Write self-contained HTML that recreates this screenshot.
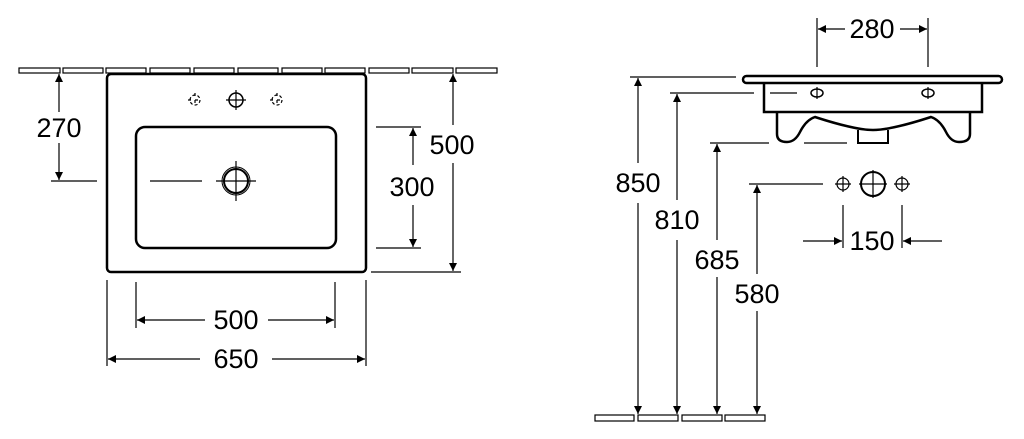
<!DOCTYPE html>
<html><head><meta charset="utf-8"><style>
html,body{margin:0;padding:0;background:#fff;}
svg{display:block;}
text{font-family:"Liberation Sans",sans-serif;font-size:27px;fill:#000;text-anchor:middle;}
</style></head><body>
<svg width="1024" height="439" viewBox="0 0 1024 439" xmlns="http://www.w3.org/2000/svg">
<defs>
<marker id="a" viewBox="0 0 10 10" refX="10" refY="5" markerWidth="16" markerHeight="8" markerUnits="userSpaceOnUse" orient="auto-start-reverse"><path d="M0,0 L10,5 L0,10 z" fill="#000"/></marker>
</defs>
<g fill="none" stroke="#000" stroke-width="1.2">
<rect x="19" y="68" width="41" height="5"/><rect x="63" y="68" width="40" height="5"/><rect x="106" y="68" width="40" height="5"/><rect x="150" y="68" width="40" height="5"/><rect x="194" y="68" width="40" height="5"/><rect x="238" y="68" width="40" height="5"/><rect x="282" y="68" width="40" height="5"/><rect x="325" y="68" width="40" height="5"/><rect x="369" y="68" width="40" height="5"/><rect x="412" y="68" width="41" height="5"/><rect x="456" y="68" width="41" height="5"/>
<rect x="107" y="74" width="259" height="198" rx="4" stroke-width="2.5"/>
<rect x="136" y="127" width="200" height="121" rx="9" stroke-width="2.5"/>
<circle cx="236" cy="181" r="12" stroke-width="2"/><circle cx="236" cy="181" r="14" stroke-width="1"/>
<path d="M216 181h40M236 161v40M150 181h52"/>
<circle cx="236" cy="100" r="7" stroke-width="1.5"/><path d="M226 100h20M236 90v20"/>
<circle cx="195" cy="100" r="5" stroke-dasharray="3 2.2"/><path d="M188 100h14M195 93v14" stroke-dasharray="3 4"/>
<circle cx="277" cy="100" r="5" stroke-dasharray="3 2.2"/><path d="M270 100h14M277 93v14" stroke-dasharray="3 4"/>
<line x1="59" y1="74" x2="59" y2="112" marker-start="url(#a)"/><line x1="59" y1="143" x2="59" y2="180" marker-end="url(#a)"/>
<path d="M51 181h46"/>
<path d="M376 127h45M376 248h45"/>
<line x1="413" y1="128" x2="413" y2="165" marker-start="url(#a)"/><line x1="413" y1="205" x2="413" y2="247" marker-end="url(#a)"/>
<path d="M371 272h90"/>
<line x1="453" y1="74" x2="453" y2="125" marker-start="url(#a)"/><line x1="453" y1="163" x2="453" y2="271" marker-end="url(#a)"/>
<path d="M107 280v86M366 280v86M136 282v46M335 282v46"/>
<line x1="137" y1="320" x2="205" y2="320" marker-start="url(#a)"/><line x1="268" y1="320" x2="334" y2="320" marker-end="url(#a)"/>
<line x1="108" y1="359" x2="200" y2="359" marker-start="url(#a)"/><line x1="272" y1="359" x2="365" y2="359" marker-end="url(#a)"/>
<rect x="595" y="415" width="39" height="6"/><rect x="638" y="415" width="40" height="6"/><rect x="682" y="415" width="40" height="6"/><rect x="725" y="415" width="40" height="6"/>
<rect x="743" y="76" width="259" height="7" rx="3.5" stroke-width="2.5"/>
<path d="M764 83v29h218v-29" stroke-width="2.5"/>
<path d="M777 112 L777 134 Q777 142 787 142 Q795 142 800 132 Q806 120 815 117 Q855 130 873 130 Q891 130 931 117 Q940 120 946 132 Q951 142 959 142 Q970 142 970 134 L970 112" stroke-width="2.5"/>
<path d="M858 130v13h30v-13" stroke-width="2"/>
<ellipse cx="817" cy="93" rx="6" ry="4" stroke-width="1.5"/><ellipse cx="928" cy="93" rx="6" ry="4" stroke-width="1.5"/>
<path d="M817 87v12M928 87v12M770 93h27"/>
<path d="M817 18v49M928 18v49"/>
<line x1="845" y1="29" x2="818" y2="29" marker-end="url(#a)"/><line x1="900" y1="29" x2="927" y2="29" marker-end="url(#a)"/>
<circle cx="843" cy="184" r="6"/><circle cx="873" cy="184" r="12" stroke-width="2"/><circle cx="902" cy="184" r="6"/>
<path d="M835 184h16M843 176v16M859 184h28M873 170v28M894 184h16M902 176v16"/>
<path d="M843 205v43M902 205v43"/>
<line x1="803" y1="241" x2="842" y2="241" marker-end="url(#a)"/><line x1="942" y1="241" x2="903" y2="241" marker-end="url(#a)"/>
<path d="M630 77h106M670 93h84M710 143h59M804 143h43M749 184h74"/>
<line x1="638" y1="78" x2="638" y2="163" marker-start="url(#a)"/><line x1="638" y1="203" x2="638" y2="414" marker-end="url(#a)"/>
<line x1="677" y1="94" x2="677" y2="200" marker-start="url(#a)"/><line x1="677" y1="240" x2="677" y2="414" marker-end="url(#a)"/>
<line x1="717" y1="144" x2="717" y2="240" marker-start="url(#a)"/><line x1="717" y1="277" x2="717" y2="414" marker-end="url(#a)"/>
<line x1="757" y1="185" x2="757" y2="274" marker-start="url(#a)"/><line x1="757" y1="311" x2="757" y2="414" marker-end="url(#a)"/>
</g>
<text x="59" y="137">270</text>
<text x="452" y="154">500</text>
<text x="412" y="196">300</text>
<text x="236" y="329">500</text>
<text x="236" y="368">650</text>
<text x="872" y="38">280</text>
<text x="872" y="250">150</text>
<text x="638" y="192">850</text>
<text x="677" y="229">810</text>
<text x="717" y="269">685</text>
<text x="757" y="303">580</text>
</svg>
</body></html>
